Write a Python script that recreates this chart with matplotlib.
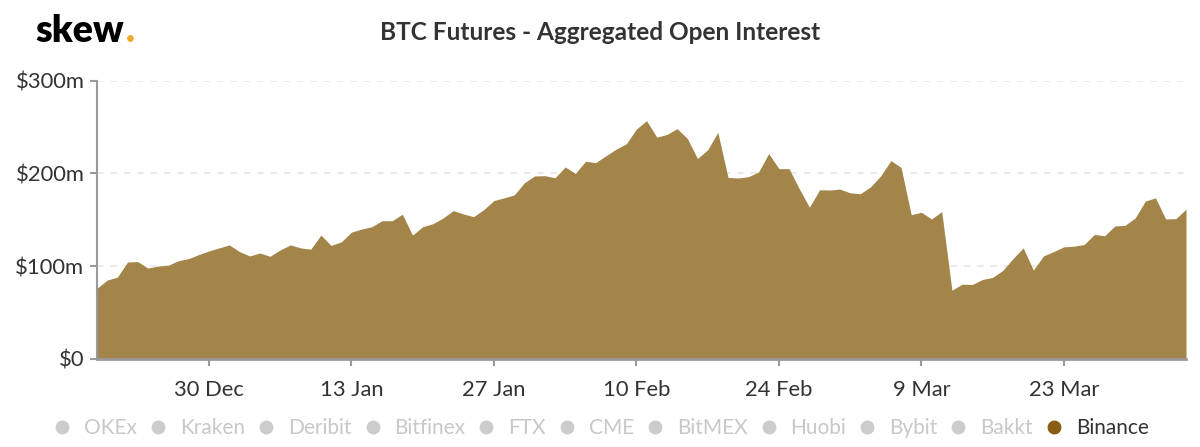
import matplotlib
matplotlib.use('Agg')
from matplotlib import pyplot as plt
from matplotlib.lines import Line2D
import pandas as pd

plt.rcParams['font.family'] = ['Lato', 'DejaVu Sans']

# Binance BTC futures open interest, $m, daily from 19 Dec 2019
start = '2019-12-19'
open_interest = [
    76, 84.8, 88, 104.3, 104.8, 97.8, 100, 100.8, 105.8, 108,
    112.4, 116.3, 119.6, 122.8, 115.6, 110.9, 114.1, 110.5, 117.4, 122.8,
    119.6, 118.2, 133.4, 122.2, 126.1, 136.6, 139.9, 142.4, 148.9, 148.9,
    155.9, 133.4, 142.4, 145.7, 151.8, 159.8, 156.2, 153.3, 160.9, 170.7,
    173.6, 176.8, 189.9, 197.2, 197.5, 195.3, 206.9, 200, 213, 211.6,
    218.9, 226.1, 231.9, 247.8, 256.9, 239.1, 242, 248.3, 237.7, 216,
    225.4, 244.2, 195.7, 195, 196.4, 201.5, 221.4, 205.1, 205.1, 183.4,
    163.5, 182.3, 182, 183, 179, 178, 185.5, 197.2, 213.8, 206.5,
    155.4, 158, 150.8, 158.7, 73.9, 80.4, 80.1, 85.5, 87.7, 95.3,
    108, 119.6, 95.7, 110.9, 115.6, 120.7, 121.4, 123.3, 134.1, 132.6,
    143.2, 143.9, 151.8, 170, 173.6, 150.8, 151.1, 161.3,
]
dates = pd.date_range(start, periods=len(open_interest), freq='D')

tick_dates = pd.to_datetime(['2019-12-30', '2020-01-13', '2020-01-27', '2020-02-10',
                             '2020-02-24', '2020-03-09', '2020-03-23'])
tick_labels = ['30 Dec', '13 Jan', '27 Jan', '10 Feb', '24 Feb', '9 Mar', '23 Mar']
y_ticks = [0, 100, 200, 300]
y_labels = ['$0', '$100m', '$200m', '$300m']

exchanges = ['OKEx', 'Kraken', 'Deribit', 'Bitfinex', 'FTX', 'CME', 'BitMEX',
             'Huobi', 'Bybit', 'Bakkt', 'Binance']
visible = ['Binance']

area_color = '#a3854a'
series_color = '#875e12'
axis_color = '#999999'

fig = plt.figure(figsize=(12, 4.47), dpi=100)
ax = fig.add_axes([97 / 1200, 88.3 / 447, 1089 / 1200, 278 / 447])

ax.fill_between(dates, 0, open_interest, color=area_color, linewidth=0, zorder=2)
ax.set_xlim(dates[0], dates[-1])
ax.set_ylim(0, 300)

ax.set_yticks(y_ticks)
ax.set_yticklabels(y_labels)
ax.set_xticks(tick_dates)
ax.set_xticklabels(tick_labels)
ax.tick_params(axis='both', colors=axis_color, labelcolor='#333333', labelsize=15.8,
               length=5, width=1.5)
ax.tick_params(axis='y', pad=4)
ax.tick_params(axis='x', pad=10)

ax.set_axisbelow(True)
ax.grid(axis='y', color='#e6e6e6', linestyle=(0, (4, 4)), linewidth=1.2, zorder=1)
for side in ['top', 'right']:
    ax.spines[side].set_visible(False)
ax.spines['left'].set_color(axis_color)
ax.spines['left'].set_linewidth(1.5)
ax.spines['bottom'].set_color(axis_color)
ax.spines['bottom'].set_linewidth(2)
ax.spines['bottom'].set_zorder(3)

fig.text(0.5, 1 - 33 / 447, 'BTC Futures - Aggregated Open Interest', ha='center', va='center',
         fontsize=17.6, fontweight='bold', color='#333333')

# logo: "skew" plus an orange full stop right after it
logo = fig.text(35 / 1200, 1 - 42 / 447, 'skew', ha='left', va='baseline',
                fontsize=27, fontweight='heavy', color='black')
fig.canvas.draw()
logo_end = logo.get_window_extent().x1
fig.text((logo_end + 2) / 1200, 1 - 42 / 447, '.', ha='left', va='baseline',
         fontsize=27, fontweight='heavy', color='#f0a830')

handles = [Line2D([], [], marker='o', linestyle='', markersize=9,
                  color=series_color if name in visible else '#cccccc')
           for name in exchanges]
label_colors = ['#333333' if name in visible else '#c8c8c8' for name in exchanges]
fig.legend(handles, exchanges, loc='center', bbox_to_anchor=(0.502, 1 - 428 / 447),
           ncol=len(exchanges), frameon=False, labelcolor=label_colors,
           handlelength=0.6, handletextpad=0.75, columnspacing=0.71,
           prop={'family': 'Lato', 'size': 15})

fig.savefig('out.png', dpi=100)
